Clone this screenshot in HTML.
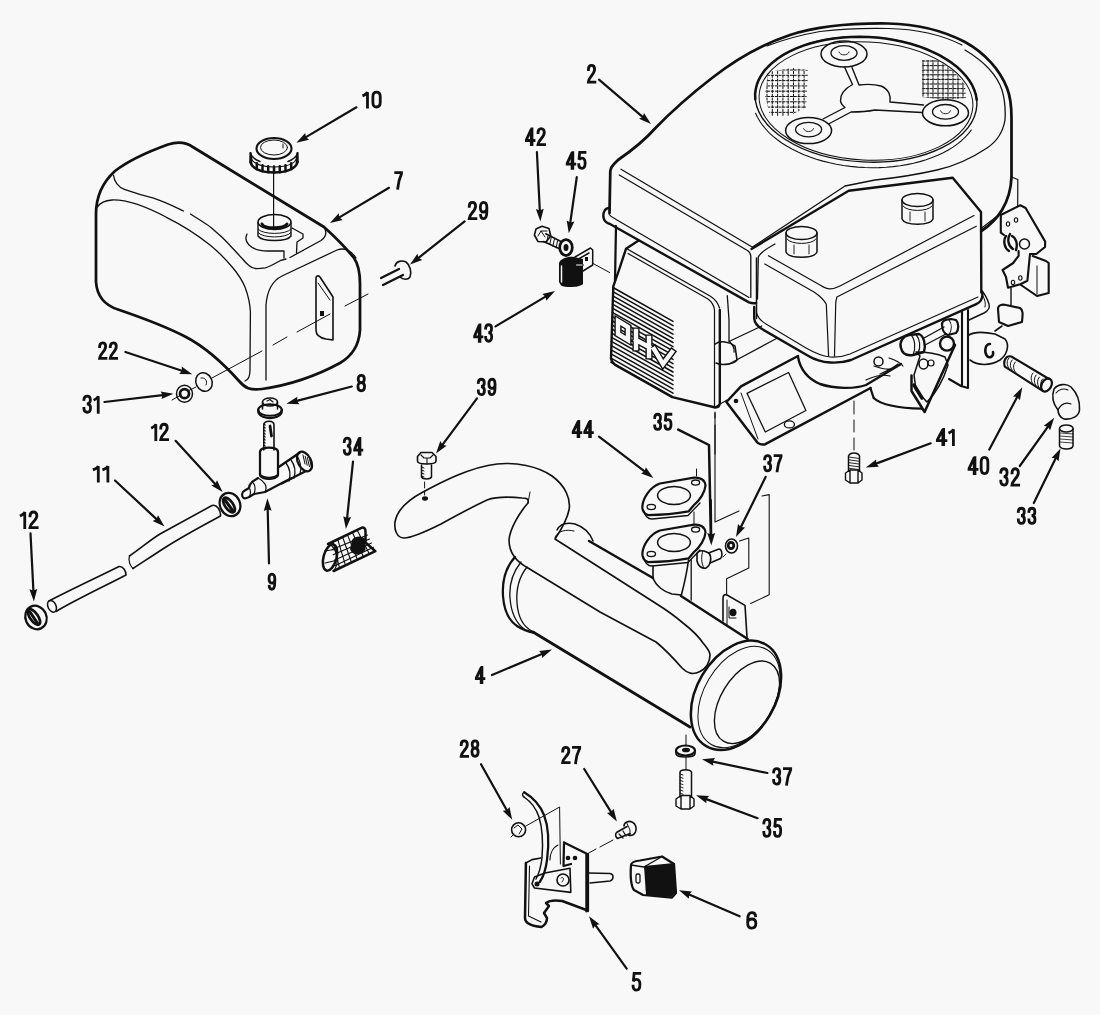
<!DOCTYPE html>
<html><head><meta charset="utf-8"><style>
html,body{margin:0;padding:0;background:#f8f8f8;overflow:hidden;width:1100px;height:1015px;}
svg{display:block;}
svg path,svg line,svg ellipse,svg circle,svg polyline,svg polygon,svg rect{fill:none;stroke:#111;stroke-linecap:round;stroke-linejoin:round;}
svg .f{fill:#111;stroke:none;}
svg .dg path{stroke-width:2.8px;vector-effect:non-scaling-stroke;stroke-linecap:square;stroke-linejoin:miter;stroke-miterlimit:3}
svg .lb{font-family:"Liberation Sans",sans-serif;font-weight:bold;fill:#111;}
</style></head><body>
<svg width="1100" height="1015" viewBox="0 0 1100 1015">
<g transform="translate(362.7,90.9) scale(1.165,0.911)" class="dg"><path transform="translate(0.00,0)" d="M0.9,4.9 C2.4,4.1 3.6,2.9 4.1,1.35 L4.1,17.65"/><path transform="translate(7.40,0)" d="M4.5,1.35 C6.9,1.35 7.65,3.5 7.65,6.2 L7.65,12.8 C7.65,15.5 6.9,17.65 4.5,17.65 C2.1,17.65 1.35,15.5 1.35,12.8 L1.35,6.2 C1.35,3.5 2.1,1.35 4.5,1.35 Z"/></g>
<g transform="translate(394.5,171.3) scale(0.911,0.958)" class="dg"><path transform="translate(0.00,0)" d="M1.35,1.35 L7.65,1.35 L7.65,2.6 C5.6,6.8 4.1,11.5 3.6,17.65"/></g>
<g transform="translate(467.8,201.0) scale(1.025,1.000)" class="dg"><path transform="translate(0.00,0)" d="M1.4,5.4 C1.4,2.8 2.6,1.35 4.5,1.35 C6.5,1.35 7.6,2.8 7.6,5.2 C7.6,7.8 6.2,9.6 4.3,11.8 C2.6,13.8 1.5,15.5 1.35,17.65 L7.9,17.65"/><path transform="translate(10.90,0)" d="M1.6,14.4 C1.8,16.5 2.8,17.65 4.4,17.65 C6.6,17.65 7.65,15.2 7.65,10.5 L7.65,6 C7.65,3.1 6.5,1.35 4.5,1.35 C2.5,1.35 1.35,3.1 1.35,6.4 C1.35,9.4 2.5,11 4.4,11 C6.1,11 7.4,9.8 7.65,8"/></g>
<g transform="translate(587.0,64.0) scale(1.000,1.026)" class="dg"><path transform="translate(0.00,0)" d="M1.4,5.4 C1.4,2.8 2.6,1.35 4.5,1.35 C6.5,1.35 7.6,2.8 7.6,5.2 C7.6,7.8 6.2,9.6 4.3,11.8 C2.6,13.8 1.5,15.5 1.35,17.65 L7.9,17.65"/></g>
<g transform="translate(525.0,127.4) scale(1.015,0.979)" class="dg"><path transform="translate(0.00,0)" d="M6.2,17.65 L6.2,1.6 L1.35,12.6 L1.35,13.4 L8.9,13.4 M6.9,17.65 L6.9,1.6"/><path transform="translate(11.40,0)" d="M1.4,5.4 C1.4,2.8 2.6,1.35 4.5,1.35 C6.5,1.35 7.6,2.8 7.6,5.2 C7.6,7.8 6.2,9.6 4.3,11.8 C2.6,13.8 1.5,15.5 1.35,17.65 L7.9,17.65"/></g>
<g transform="translate(565.8,151.0) scale(1.015,0.984)" class="dg"><path transform="translate(0.00,0)" d="M6.2,17.65 L6.2,1.6 L1.35,12.6 L1.35,13.4 L8.9,13.4 M6.9,17.65 L6.9,1.6"/><path transform="translate(11.40,0)" d="M7.5,1.35 L2.3,1.35 L1.6,8.8 C2.4,7.8 3.4,7.2 4.6,7.2 C6.6,7.2 7.65,9.2 7.65,12.2 C7.65,15.6 6.5,17.65 4.5,17.65 C2.5,17.65 1.35,16.3 1.35,13.8"/></g>
<g transform="translate(473.3,323.4) scale(0.966,1.011)" class="dg"><path transform="translate(0.00,0)" d="M6.2,17.65 L6.2,1.6 L1.35,12.6 L1.35,13.4 L8.9,13.4 M6.9,17.65 L6.9,1.6"/><path transform="translate(11.40,0)" d="M1.35,4.8 C1.5,2.6 2.6,1.35 4.5,1.35 C6.4,1.35 7.5,2.6 7.5,5 C7.5,7.6 6.4,9.1 4.1,9.1 C6.5,9.1 7.65,10.8 7.65,13.3 C7.65,16.1 6.4,17.65 4.5,17.65 C2.5,17.65 1.35,16.3 1.35,13.8"/></g>
<g transform="translate(98.2,341.5) scale(0.980,0.958)" class="dg"><path transform="translate(0.00,0)" d="M1.4,5.4 C1.4,2.8 2.6,1.35 4.5,1.35 C6.5,1.35 7.6,2.8 7.6,5.2 C7.6,7.8 6.2,9.6 4.3,11.8 C2.6,13.8 1.5,15.5 1.35,17.65 L7.9,17.65"/><path transform="translate(10.90,0)" d="M1.4,5.4 C1.4,2.8 2.6,1.35 4.5,1.35 C6.5,1.35 7.6,2.8 7.6,5.2 C7.6,7.8 6.2,9.6 4.3,11.8 C2.6,13.8 1.5,15.5 1.35,17.65 L7.9,17.65"/></g>
<g transform="translate(82.5,394.8) scale(1.049,0.989)" class="dg"><path transform="translate(0.00,0)" d="M1.35,4.8 C1.5,2.6 2.6,1.35 4.5,1.35 C6.4,1.35 7.5,2.6 7.5,5 C7.5,7.6 6.4,9.1 4.1,9.1 C6.5,9.1 7.65,10.8 7.65,13.3 C7.65,16.1 6.4,17.65 4.5,17.65 C2.5,17.65 1.35,16.3 1.35,13.8"/><path transform="translate(10.90,0)" d="M0.9,4.9 C2.4,4.1 3.6,2.9 4.1,1.35 L4.1,17.65"/></g>
<g transform="translate(356.5,374.2) scale(1.056,0.937)" class="dg"><path transform="translate(0.00,0)" d="M4.5,8.9 C2.5,8.9 1.6,7.4 1.6,5 C1.6,2.6 2.6,1.35 4.5,1.35 C6.4,1.35 7.4,2.6 7.4,5 C7.4,7.4 6.5,8.9 4.5,8.9 C2.3,8.9 1.35,10.7 1.35,13.2 C1.35,16 2.5,17.65 4.5,17.65 C6.5,17.65 7.65,16 7.65,13.2 C7.65,10.7 6.7,8.9 4.5,8.9 Z"/></g>
<g transform="translate(151.5,423.0) scale(1.049,0.937)" class="dg"><path transform="translate(0.00,0)" d="M0.9,4.9 C2.4,4.1 3.6,2.9 4.1,1.35 L4.1,17.65"/><path transform="translate(7.40,0)" d="M1.4,5.4 C1.4,2.8 2.6,1.35 4.5,1.35 C6.5,1.35 7.6,2.8 7.6,5.2 C7.6,7.8 6.2,9.6 4.3,11.8 C2.6,13.8 1.5,15.5 1.35,17.65 L7.9,17.65"/></g>
<g transform="translate(93.0,464.9) scale(1.295,0.911)" class="dg"><path transform="translate(0.00,0)" d="M0.9,4.9 C2.4,4.1 3.6,2.9 4.1,1.35 L4.1,17.65"/><path transform="translate(7.40,0)" d="M0.9,4.9 C2.4,4.1 3.6,2.9 4.1,1.35 L4.1,17.65"/></g>
<g transform="translate(477.0,378.0) scale(0.970,0.942)" class="dg"><path transform="translate(0.00,0)" d="M1.35,4.8 C1.5,2.6 2.6,1.35 4.5,1.35 C6.4,1.35 7.5,2.6 7.5,5 C7.5,7.6 6.4,9.1 4.1,9.1 C6.5,9.1 7.65,10.8 7.65,13.3 C7.65,16.1 6.4,17.65 4.5,17.65 C2.5,17.65 1.35,16.3 1.35,13.8"/><path transform="translate(10.90,0)" d="M1.6,14.4 C1.8,16.5 2.8,17.65 4.4,17.65 C6.6,17.65 7.65,15.2 7.65,10.5 L7.65,6 C7.65,3.1 6.5,1.35 4.5,1.35 C2.5,1.35 1.35,3.1 1.35,6.4 C1.35,9.4 2.5,11 4.4,11 C6.1,11 7.4,9.8 7.65,8"/></g>
<g transform="translate(343.0,436.8) scale(0.951,1.000)" class="dg"><path transform="translate(0.00,0)" d="M1.35,4.8 C1.5,2.6 2.6,1.35 4.5,1.35 C6.4,1.35 7.5,2.6 7.5,5 C7.5,7.6 6.4,9.1 4.1,9.1 C6.5,9.1 7.65,10.8 7.65,13.3 C7.65,16.1 6.4,17.65 4.5,17.65 C2.5,17.65 1.35,16.3 1.35,13.8"/><path transform="translate(10.90,0)" d="M6.2,17.65 L6.2,1.6 L1.35,12.6 L1.35,13.4 L8.9,13.4 M6.9,17.65 L6.9,1.6"/></g>
<g transform="translate(267.8,572.8) scale(0.911,0.932)" class="dg"><path transform="translate(0.00,0)" d="M1.6,14.4 C1.8,16.5 2.8,17.65 4.4,17.65 C6.6,17.65 7.65,15.2 7.65,10.5 L7.65,6 C7.65,3.1 6.5,1.35 4.5,1.35 C2.5,1.35 1.35,3.1 1.35,6.4 C1.35,9.4 2.5,11 4.4,11 C6.1,11 7.4,9.8 7.65,8"/></g>
<g transform="translate(20.2,510.7) scale(1.110,0.958)" class="dg"><path transform="translate(0.00,0)" d="M0.9,4.9 C2.4,4.1 3.6,2.9 4.1,1.35 L4.1,17.65"/><path transform="translate(7.40,0)" d="M1.4,5.4 C1.4,2.8 2.6,1.35 4.5,1.35 C6.5,1.35 7.6,2.8 7.6,5.2 C7.6,7.8 6.2,9.6 4.3,11.8 C2.6,13.8 1.5,15.5 1.35,17.65 L7.9,17.65"/></g>
<g transform="translate(571.8,420.0) scale(1.014,0.937)" class="dg"><path transform="translate(0.00,0)" d="M6.2,17.65 L6.2,1.6 L1.35,12.6 L1.35,13.4 L8.9,13.4 M6.9,17.65 L6.9,1.6"/><path transform="translate(11.40,0)" d="M6.2,17.65 L6.2,1.6 L1.35,12.6 L1.35,13.4 L8.9,13.4 M6.9,17.65 L6.9,1.6"/></g>
<g transform="translate(653.4,413.0) scale(0.950,0.932)" class="dg"><path transform="translate(0.00,0)" d="M1.35,4.8 C1.5,2.6 2.6,1.35 4.5,1.35 C6.4,1.35 7.5,2.6 7.5,5 C7.5,7.6 6.4,9.1 4.1,9.1 C6.5,9.1 7.65,10.8 7.65,13.3 C7.65,16.1 6.4,17.65 4.5,17.65 C2.5,17.65 1.35,16.3 1.35,13.8"/><path transform="translate(10.90,0)" d="M7.5,1.35 L2.3,1.35 L1.6,8.8 C2.4,7.8 3.4,7.2 4.6,7.2 C6.6,7.2 7.65,9.2 7.65,12.2 C7.65,15.6 6.5,17.65 4.5,17.65 C2.5,17.65 1.35,16.3 1.35,13.8"/></g>
<g transform="translate(763.4,454.4) scale(0.950,0.932)" class="dg"><path transform="translate(0.00,0)" d="M1.35,4.8 C1.5,2.6 2.6,1.35 4.5,1.35 C6.4,1.35 7.5,2.6 7.5,5 C7.5,7.6 6.4,9.1 4.1,9.1 C6.5,9.1 7.65,10.8 7.65,13.3 C7.65,16.1 6.4,17.65 4.5,17.65 C2.5,17.65 1.35,16.3 1.35,13.8"/><path transform="translate(10.90,0)" d="M1.35,1.35 L7.65,1.35 L7.65,2.6 C5.6,6.8 4.1,11.5 3.6,17.65"/></g>
<g transform="translate(935.8,428.0) scale(1.136,0.937)" class="dg"><path transform="translate(0.00,0)" d="M6.2,17.65 L6.2,1.6 L1.35,12.6 L1.35,13.4 L8.9,13.4 M6.9,17.65 L6.9,1.6"/><path transform="translate(11.40,0)" d="M0.9,4.9 C2.4,4.1 3.6,2.9 4.1,1.35 L4.1,17.65"/></g>
<g transform="translate(967.6,456.0) scale(1.064,1.000)" class="dg"><path transform="translate(0.00,0)" d="M6.2,17.65 L6.2,1.6 L1.35,12.6 L1.35,13.4 L8.9,13.4 M6.9,17.65 L6.9,1.6"/><path transform="translate(11.40,0)" d="M4.5,1.35 C6.9,1.35 7.65,3.5 7.65,6.2 L7.65,12.8 C7.65,15.5 6.9,17.65 4.5,17.65 C2.1,17.65 1.35,15.5 1.35,12.8 L1.35,6.2 C1.35,3.5 2.1,1.35 4.5,1.35 Z"/></g>
<g transform="translate(999.4,467.4) scale(1.025,1.005)" class="dg"><path transform="translate(0.00,0)" d="M1.35,4.8 C1.5,2.6 2.6,1.35 4.5,1.35 C6.4,1.35 7.5,2.6 7.5,5 C7.5,7.6 6.4,9.1 4.1,9.1 C6.5,9.1 7.65,10.8 7.65,13.3 C7.65,16.1 6.4,17.65 4.5,17.65 C2.5,17.65 1.35,16.3 1.35,13.8"/><path transform="translate(10.90,0)" d="M1.4,5.4 C1.4,2.8 2.6,1.35 4.5,1.35 C6.5,1.35 7.6,2.8 7.6,5.2 C7.6,7.8 6.2,9.6 4.3,11.8 C2.6,13.8 1.5,15.5 1.35,17.65 L7.9,17.65"/></g>
<g transform="translate(1017.0,507.0) scale(0.970,0.932)" class="dg"><path transform="translate(0.00,0)" d="M1.35,4.8 C1.5,2.6 2.6,1.35 4.5,1.35 C6.4,1.35 7.5,2.6 7.5,5 C7.5,7.6 6.4,9.1 4.1,9.1 C6.5,9.1 7.65,10.8 7.65,13.3 C7.65,16.1 6.4,17.65 4.5,17.65 C2.5,17.65 1.35,16.3 1.35,13.8"/><path transform="translate(10.90,0)" d="M1.35,4.8 C1.5,2.6 2.6,1.35 4.5,1.35 C6.4,1.35 7.5,2.6 7.5,5 C7.5,7.6 6.4,9.1 4.1,9.1 C6.5,9.1 7.65,10.8 7.65,13.3 C7.65,16.1 6.4,17.65 4.5,17.65 C2.5,17.65 1.35,16.3 1.35,13.8"/></g>
<g transform="translate(475.0,666.0) scale(1.000,0.947)" class="dg"><path transform="translate(0.00,0)" d="M6.2,17.65 L6.2,1.6 L1.35,12.6 L1.35,13.4 L8.9,13.4 M6.9,17.65 L6.9,1.6"/></g>
<g transform="translate(459.8,739.6) scale(0.990,0.947)" class="dg"><path transform="translate(0.00,0)" d="M1.4,5.4 C1.4,2.8 2.6,1.35 4.5,1.35 C6.5,1.35 7.6,2.8 7.6,5.2 C7.6,7.8 6.2,9.6 4.3,11.8 C2.6,13.8 1.5,15.5 1.35,17.65 L7.9,17.65"/><path transform="translate(10.90,0)" d="M4.5,8.9 C2.5,8.9 1.6,7.4 1.6,5 C1.6,2.6 2.6,1.35 4.5,1.35 C6.4,1.35 7.4,2.6 7.4,5 C7.4,7.4 6.5,8.9 4.5,8.9 C2.3,8.9 1.35,10.7 1.35,13.2 C1.35,16 2.5,17.65 4.5,17.65 C6.5,17.65 7.65,16 7.65,13.2 C7.65,10.7 6.7,8.9 4.5,8.9 Z"/></g>
<g transform="translate(561.3,746.0) scale(0.990,0.947)" class="dg"><path transform="translate(0.00,0)" d="M1.4,5.4 C1.4,2.8 2.6,1.35 4.5,1.35 C6.5,1.35 7.6,2.8 7.6,5.2 C7.6,7.8 6.2,9.6 4.3,11.8 C2.6,13.8 1.5,15.5 1.35,17.65 L7.9,17.65"/><path transform="translate(10.90,0)" d="M1.35,1.35 L7.65,1.35 L7.65,2.6 C5.6,6.8 4.1,11.5 3.6,17.65"/></g>
<g transform="translate(772.3,767.4) scale(0.990,0.947)" class="dg"><path transform="translate(0.00,0)" d="M1.35,4.8 C1.5,2.6 2.6,1.35 4.5,1.35 C6.4,1.35 7.5,2.6 7.5,5 C7.5,7.6 6.4,9.1 4.1,9.1 C6.5,9.1 7.65,10.8 7.65,13.3 C7.65,16.1 6.4,17.65 4.5,17.65 C2.5,17.65 1.35,16.3 1.35,13.8"/><path transform="translate(10.90,0)" d="M1.35,1.35 L7.65,1.35 L7.65,2.6 C5.6,6.8 4.1,11.5 3.6,17.65"/></g>
<g transform="translate(762.5,818.0) scale(0.980,1.042)" class="dg"><path transform="translate(0.00,0)" d="M1.35,4.8 C1.5,2.6 2.6,1.35 4.5,1.35 C6.4,1.35 7.5,2.6 7.5,5 C7.5,7.6 6.4,9.1 4.1,9.1 C6.5,9.1 7.65,10.8 7.65,13.3 C7.65,16.1 6.4,17.65 4.5,17.65 C2.5,17.65 1.35,16.3 1.35,13.8"/><path transform="translate(10.90,0)" d="M7.5,1.35 L2.3,1.35 L1.6,8.8 C2.4,7.8 3.4,7.2 4.6,7.2 C6.6,7.2 7.65,9.2 7.65,12.2 C7.65,15.6 6.5,17.65 4.5,17.65 C2.5,17.65 1.35,16.3 1.35,13.8"/></g>
<g transform="translate(746.0,911.4) scale(1.289,0.947)" class="dg"><path transform="translate(0.00,0)" d="M7.4,4.6 C7.2,2.5 6.2,1.35 4.6,1.35 C2.4,1.35 1.35,3.8 1.35,8.5 L1.35,13 C1.35,15.9 2.5,17.65 4.5,17.65 C6.5,17.65 7.65,15.9 7.65,12.6 C7.65,9.6 6.5,8 4.6,8 C2.9,8 1.6,9.2 1.35,11"/></g>
<g transform="translate(631.6,972.0) scale(1.089,1.032)" class="dg"><path transform="translate(0.00,0)" d="M7.5,1.35 L2.3,1.35 L1.6,8.8 C2.4,7.8 3.4,7.2 4.6,7.2 C6.6,7.2 7.65,9.2 7.65,12.2 C7.65,15.6 6.5,17.65 4.5,17.65 C2.5,17.65 1.35,16.3 1.35,13.8"/></g>
<line x1="356.4" y1="107.3" x2="305.9" y2="137.1" stroke-width="2.20"/>
<polygon class="f" points="296.4,142.7 305.2,133.0 305.9,137.1 309.1,139.7"/>
<line x1="389.0" y1="187.8" x2="339.4" y2="217.4" stroke-width="2.20"/>
<polygon class="f" points="330.0,223.0 338.7,213.2 339.4,217.4 342.7,219.9"/>
<line x1="464.6" y1="221.4" x2="418.6" y2="257.8" stroke-width="2.20"/>
<polygon class="f" points="410.0,264.6 417.4,253.8 418.6,257.8 422.2,259.9"/>
<line x1="599.0" y1="79.6" x2="642.6" y2="116.9" stroke-width="2.20"/>
<polygon class="f" points="651.0,124.0 639.0,118.8 642.6,116.9 644.0,112.9"/>
<line x1="536.9" y1="152.0" x2="539.8" y2="210.4" stroke-width="2.20"/>
<polygon class="f" points="540.4,221.4 535.9,209.1 539.8,210.4 543.7,208.7"/>
<line x1="576.8" y1="177.0" x2="570.3" y2="222.4" stroke-width="2.20"/>
<polygon class="f" points="568.8,233.3 566.7,220.4 570.3,222.4 574.4,221.5"/>
<line x1="495.5" y1="326.4" x2="545.5" y2="296.6" stroke-width="2.20"/>
<polygon class="f" points="555.0,291.0 546.3,300.7 545.5,296.6 542.3,294.0"/>
<line x1="125.4" y1="352.0" x2="181.9" y2="370.8" stroke-width="2.20"/>
<polygon class="f" points="192.3,374.3 179.2,374.0 181.9,370.8 181.7,366.6"/>
<line x1="104.5" y1="402.0" x2="162.6" y2="395.1" stroke-width="2.20"/>
<polygon class="f" points="173.5,393.8 161.5,399.1 162.6,395.1 160.6,391.4"/>
<line x1="351.8" y1="386.5" x2="296.9" y2="400.9" stroke-width="2.20"/>
<polygon class="f" points="286.3,403.7 297.4,396.8 296.9,400.9 299.4,404.3"/>
<line x1="175.6" y1="440.8" x2="215.2" y2="483.9" stroke-width="2.20"/>
<polygon class="f" points="222.6,492.0 211.3,485.4 215.2,483.9 217.0,480.2"/>
<line x1="115.0" y1="480.5" x2="156.5" y2="519.1" stroke-width="2.20"/>
<polygon class="f" points="164.5,526.6 152.7,520.9 156.5,519.1 158.0,515.2"/>
<line x1="477.0" y1="398.4" x2="442.6" y2="444.7" stroke-width="2.20"/>
<polygon class="f" points="436.0,453.5 440.3,441.1 442.6,444.7 446.6,445.8"/>
<line x1="353.0" y1="461.7" x2="347.1" y2="518.1" stroke-width="2.20"/>
<polygon class="f" points="345.9,529.0 343.3,516.2 347.1,518.1 351.1,517.0"/>
<line x1="269.0" y1="563.4" x2="267.7" y2="509.3" stroke-width="2.20"/>
<polygon class="f" points="267.4,498.3 271.6,510.7 267.7,509.3 263.8,510.9"/>
<line x1="30.5" y1="533.4" x2="33.4" y2="590.6" stroke-width="2.20"/>
<polygon class="f" points="33.9,601.6 29.4,589.3 33.4,590.6 37.2,588.9"/>
<line x1="599.0" y1="436.6" x2="644.6" y2="471.3" stroke-width="2.20"/>
<polygon class="f" points="653.4,478.0 641.1,473.5 644.6,471.3 645.8,467.3"/>
<line x1="765.7" y1="476.8" x2="740.9" y2="527.1" stroke-width="2.20"/>
<polygon class="f" points="736.0,537.0 738.0,524.1 740.9,527.1 745.0,527.5"/>
<line x1="930.7" y1="443.3" x2="876.1" y2="463.6" stroke-width="2.20"/>
<polygon class="f" points="865.8,467.4 876.2,459.4 876.1,463.6 878.9,466.7"/>
<line x1="989.3" y1="449.6" x2="1017.2" y2="397.0" stroke-width="2.20"/>
<polygon class="f" points="1022.3,387.3 1019.9,400.2 1017.2,397.0 1013.0,396.5"/>
<line x1="1019.8" y1="466.0" x2="1047.8" y2="426.8" stroke-width="2.20"/>
<polygon class="f" points="1054.2,417.8 1050.1,430.2 1047.8,426.8 1043.8,425.7"/>
<line x1="1033.8" y1="503.0" x2="1055.7" y2="458.3" stroke-width="2.20"/>
<polygon class="f" points="1060.5,448.4 1058.5,461.3 1055.7,458.3 1051.5,457.9"/>
<line x1="481.0" y1="764.2" x2="506.8" y2="810.2" stroke-width="2.20"/>
<polygon class="f" points="512.2,819.8 502.7,810.8 506.8,810.2 509.5,807.0"/>
<line x1="584.2" y1="769.0" x2="611.1" y2="812.1" stroke-width="2.20"/>
<polygon class="f" points="616.9,821.4 607.0,812.9 611.1,812.1 613.6,808.7"/>
<line x1="767.4" y1="773.0" x2="712.8" y2="761.6" stroke-width="2.20"/>
<polygon class="f" points="702.0,759.3 715.0,758.0 712.8,761.6 713.4,765.7"/>
<line x1="757.6" y1="818.2" x2="706.3" y2="799.1" stroke-width="2.20"/>
<polygon class="f" points="696.0,795.3 709.1,796.0 706.3,799.1 706.4,803.3"/>
<line x1="739.6" y1="916.3" x2="689.1" y2="894.6" stroke-width="2.20"/>
<polygon class="f" points="679.0,890.2 692.0,891.6 689.1,894.6 688.9,898.7"/>
<line x1="626.7" y1="968.7" x2="595.4" y2="925.2" stroke-width="2.20"/>
<polygon class="f" points="589.0,916.3 599.5,924.2 595.4,925.2 593.1,928.7"/>
<polyline points="678.2,429.6 709,445 710.8,534" stroke-width="2.50"/>
<line x1="710.8" y1="500.0" x2="711.2" y2="534.4" stroke-width="2.20"/>
<polygon class="f" points="711.3,545.4 707.3,532.9 711.2,534.4 715.1,532.9"/>
<path d="M96,282 L96,214 C96,196 104,181 115,171 C128,161 150,151 168,144.5 C178,141.5 186,142.5 192,146.5 L324,227 C334,236 346,248 354,258 C359,265 360,273 360,284 L360,330 C359,346 352,356 340,363 C318,375 290,385 262,389 C250,390.5 245,388 239,381 C222,362 205,347 186,337 C165,326 140,317 118,309.5 C104,305 97,296 96,282 Z" stroke-width="2.75" />
<path d="M97.6,207 C100,203 104,200.5 112,200 C125,199.5 145,206 166.4,217.3 C180,224 195,233 210,245 C220,253 228,262 233,268 C238,274 242,280 245,287 C248,295 250,303 250.4,312 L250,370 C250,376 248,380 245,381" stroke-width="1.30" />
<path d="M113.5,175.3 C114,181 118,187 124.4,189.3 C135,193 145,196 153.6,198.2 C165,202 175,207 183.5,211" stroke-width="1.30" />
<path d="M190.5,214 C198,219 205,223 211,227.5 C216,232 220,235 223.6,238.7 C228,243 236,252 242.6,259 C245,262 247,264 249,265.5 C251,267.5 254,268.6 257,268.6 C260,268.6 263,268.2 265.4,267.8 C270,266.5 275,263.5 280,260.7 L286,259" stroke-width="1.30" />
<path d="M266,380 L266,305 C267,292 272,281 282,276 L337,250 C345,247 352,251 356,258" stroke-width="1.30" />
<path d="M290,257.5 L321,240.5 C326,237 327,232 324,227" stroke-width="1.30" />
<path d="M247,234 C245,238 246,242 249,245 C253,249 260,251 268,251 L284,251 L284,258" stroke-width="1.30" />
<path d="M292,228 L303,234 L303,238 L297,242 L296.5,253" stroke-width="1.30" />
<ellipse cx="274.5" cy="222" rx="16.5" ry="7.5" stroke-width="1.60"/>
<path d="M262,224 C264,229 284,229 287,224" stroke-width="3.00"/>
<path d="M258,223 L258,236 C262,242 287,242 291,236 L291,223" stroke-width="1.40" />
<path d="M258,229 C262,235 287,235 291,229 M258,232.5 C262,238.5 287,238.5 291,232.5" stroke-width="1.00" />
<ellipse cx="274" cy="148.5" rx="17.5" ry="10.5" stroke-width="2.12"/>
<ellipse cx="274" cy="147.5" rx="13.5" ry="7.5" stroke-width="1.00"/>
<path d="M283,144 L283,148" stroke-width="1.00" />
<path d="M250.5,153 L250.5,162 M297.5,153 L297.5,162" stroke-width="2.25" />
<path d="M250.5,153 C251,156 255,160 260,161.5" stroke-width="1.50" />
<path d="M297.5,153 C297,156 293,160 288,161.5" stroke-width="1.50" />
<path d="M250.5,156 C252,164 262,167 274,167 C286,167 296,164 297.5,156" stroke-width="1.20" />
<path d="M250.5,162 C252,169 262,172.5 274,172.5 C286,172.5 296,169 297.5,162" stroke-width="2.50" />
<line x1="251.0" y1="157.0" x2="251.0" y2="163.0" stroke-width="2.50"/>
<line x1="256.8" y1="163.3" x2="256.8" y2="169.3" stroke-width="2.50"/>
<line x1="262.5" y1="165.2" x2="262.5" y2="171.2" stroke-width="2.50"/>
<line x1="268.2" y1="166.2" x2="268.2" y2="172.2" stroke-width="2.50"/>
<line x1="274.0" y1="166.5" x2="274.0" y2="172.5" stroke-width="2.50"/>
<line x1="279.8" y1="166.2" x2="279.8" y2="172.2" stroke-width="2.50"/>
<line x1="285.5" y1="165.2" x2="285.5" y2="171.2" stroke-width="2.50"/>
<line x1="291.2" y1="163.3" x2="291.2" y2="169.3" stroke-width="2.50"/>
<line x1="297.0" y1="157.0" x2="297.0" y2="163.0" stroke-width="2.50"/>
<line x1="273.6" y1="172" x2="273.6" y2="228" stroke-width="1.20"/>
<path d="M316,278 L316,330 C316,336 320,338 326,339 L333,340 L333,297 L320,277 C318,275 316,276 316,278 Z" stroke-width="1.60" />
<path d="M318,283 L330,300" stroke-width="1.00" />
<rect x="320" y="311" width="4" height="5" class="f"/>
<path d="M172,400 L181,395 M188,391 L196,387 M212,378 L262,351 M273,345 L287,337 M297,332 L330,314 M345,306 L368,294" stroke-width="1.00" />
<path d="M395,266 C396,261 402,260 406,262 C410,265 412,272 410,277 C408,280 403,280 400,277" stroke-width="1.60" />
<path d="M381,278 L399,269 M383,285 L403,275" stroke-width="2.25" />
<ellipse cx="204" cy="382" rx="8" ry="9.5" transform="rotate(-25 204 382)" stroke-width="1.50"/>
<path d="M201,378 C205,377 208,381 206,385" stroke-width="1.00" />
<ellipse cx="184.5" cy="393.7" rx="8" ry="8.5" stroke-width="1.50"/>
<ellipse cx="184.5" cy="393.7" rx="4.5" ry="4.5" stroke-width="2.75"/>
<path d="M49,601 C70,590 100,576 119,566.5 C123,566 126,571 126,575 C105,586 75,600 56,611.5" stroke-width="1.60" />
<ellipse cx="52" cy="606.3" rx="4" ry="6.2" transform="rotate(-25 52 606.3)" stroke-width="1.50"/>
<path d="M129.5,556 C140,549 150,540 160,534 C180,523 200,512 212,505.5 C217,504 221,511 220.5,516 C200,527 180,538 166,547 C155,554 143,562 133,568.5" stroke-width="1.60" />
<path d="M129.5,556 C128,560 130,566 133,568.5" stroke-width="1.20" />
<ellipse cx="36" cy="617.5" rx="10.5" ry="12" transform="rotate(-25 36 617.5)" stroke-width="2.25"/>
<ellipse cx="34" cy="617" rx="4" ry="9" transform="rotate(-35 34 617)" stroke-width="2.75"/>
<path d="M30,612 L38,624" stroke-width="3.00" />
<ellipse cx="230" cy="504.5" rx="10" ry="12" transform="rotate(-25 230 504.5)" stroke-width="2.25"/>
<ellipse cx="229" cy="505" rx="4" ry="8.5" transform="rotate(-35 229 505)" stroke-width="2.75"/>
<path d="M225,500 L233,511" stroke-width="3.00" />
<ellipse cx="270" cy="410" rx="11.8" ry="5.8" stroke-width="2.12"/>
<path d="M258.2,410 L258.5,413 C260,416 265,418 270,418 C275,418 280,416 281.5,413 L281.8,410" stroke-width="2.25" />
<path d="M262.5,409 L262.5,402 M277.5,409 L277.5,402" stroke-width="1.50" />
<ellipse cx="270" cy="402" rx="7.5" ry="4" stroke-width="1.50"/>
<path d="M267,401 L270,399.5 L273,402" stroke-width="1.10" />
<path d="M263.8,450 L263.8,425 C264,420 274,420 274,425 L274,450" stroke-width="1.60" />
<line x1="263.5" y1="424" x2="265.5" y2="425" stroke-width="1.00"/>
<line x1="263.5" y1="427" x2="265.5" y2="428" stroke-width="1.00"/>
<line x1="263.5" y1="430" x2="265.5" y2="431" stroke-width="1.00"/>
<line x1="263.5" y1="433" x2="265.5" y2="434" stroke-width="1.00"/>
<line x1="263.5" y1="436" x2="265.5" y2="437" stroke-width="1.00"/>
<line x1="263.5" y1="439" x2="265.5" y2="440" stroke-width="1.00"/>
<line x1="263.5" y1="442" x2="265.5" y2="443" stroke-width="1.00"/>
<line x1="263.5" y1="445" x2="265.5" y2="446" stroke-width="1.00"/>
<line x1="263.5" y1="448" x2="265.5" y2="449" stroke-width="1.00"/>
<path d="M270,426 L271.5,436" stroke-width="2.75" />
<path d="M260,452 C260,446 278,446 278,452 L278,475 C278,479 260,479 260,475 Z" stroke-width="2.25" />
<path d="M260.5,473 C262,478 276,478 277.5,473 L277.5,477 C276,481 262,481 260.5,477 Z" stroke-width="3.00" class="f"/>
<path d="M258,478 L252,482 C250,484 249,486 249,488 L244,491 C242,492 241.5,496 243,497.5 C245,499.5 247,498 249,497 L254,494 L265,492 L282,483 L292,478" stroke-width="2.12" />
<path d="M252,482 C255,484 256,488 254,494 M249,488 C251,490 251,494 249,497" stroke-width="1.20" />
<path d="M258,478 C264,481 268,486 265,492" stroke-width="1.20" />
<path d="M279.1,466.8 L299.6,452.7 M281.7,483.5 L306,471" stroke-width="2.25" />
<ellipse cx="304.5" cy="461.5" rx="6.5" ry="10.5" transform="rotate(-28 304.5 461.5)" stroke-width="2.25"/>
<path d="M286,463 C289,467 291,474 289,481 M291,460 C294,464 296,471 294,478" stroke-width="1.30" />
<path d="M296,455 C300,459 302,467 300,474" stroke-width="1.20" />
<line x1="303.0" y1="455.0" x2="305.0" y2="464.0" stroke-width="1.00"/>
<line x1="305.2" y1="456.3" x2="307.2" y2="465.3" stroke-width="1.00"/>
<line x1="307.4" y1="457.6" x2="309.4" y2="466.6" stroke-width="1.00"/>
<line x1="309.6" y1="458.9" x2="311.6" y2="467.9" stroke-width="1.00"/>
<path d="M328,544 L362,527.6 C364,527 365.5,529 365.5,531 L365.5,542.5 L375.4,551.2 L333.6,571" stroke-width="2.50" />
<ellipse cx="330" cy="557.5" rx="6.5" ry="13.5" transform="rotate(15 330 557.5)" stroke-width="2.50"/>
<path d="M325,551 L337,549 M325,563 L338,560 M331,545 C338,552 340,560 334,571" stroke-width="1.20" />
<line x1="332.9" y1="541.7" x2="339.6" y2="568.2" stroke-width="1.10"/>
<line x1="337.7" y1="539.3" x2="345.5" y2="565.3" stroke-width="1.10"/>
<line x1="342.6" y1="537.0" x2="351.5" y2="562.5" stroke-width="1.10"/>
<line x1="347.4" y1="534.6" x2="357.5" y2="559.7" stroke-width="1.10"/>
<line x1="352.3" y1="532.3" x2="363.5" y2="556.9" stroke-width="1.10"/>
<line x1="357.1" y1="529.9" x2="369.4" y2="554.0" stroke-width="1.10"/>
<line x1="332.1" y1="549.4" x2="367.5" y2="535.0" stroke-width="1.10"/>
<line x1="333.2" y1="554.8" x2="369.5" y2="539.1" stroke-width="1.10"/>
<line x1="334.4" y1="560.2" x2="371.4" y2="543.1" stroke-width="1.10"/>
<line x1="335.5" y1="565.6" x2="373.4" y2="547.2" stroke-width="1.10"/>
<path class="f" d="M352,540 C356,535 364,536 365.5,540 L365.5,550 C360,556 352,556 350,549 Z"/>
<path d="M417.5,456.5 L421,452.5 L432,452.5 L436,456.5 L436,461 C436,465 417.5,465 417.5,461 Z" stroke-width="1.60" />
<path d="M421,455 L424,458 L430,458 L433,455 M427,458 L427,464" stroke-width="1.10" />
<path d="M421.5,465 L421.5,477 C423,479.5 430,479.5 431.5,477 L431.5,465" stroke-width="1.50" />
<line x1="421.5" y1="467" x2="424" y2="468" stroke-width="1.00"/>
<line x1="421.5" y1="470" x2="424" y2="471" stroke-width="1.00"/>
<line x1="421.5" y1="473" x2="424" y2="474" stroke-width="1.00"/>
<line x1="421.5" y1="476" x2="424" y2="477" stroke-width="1.00"/>
<path d="M424.6,482 L424.6,488 M424.6,491 L424.6,495" stroke-width="1.00" />
<ellipse cx="425" cy="498.5" rx="3" ry="2.2" class="f"/>
<path d="M423,492 C440,483 470,467 497,464 C515,462 538,466 552,476 C566,486 571,500 569,510 C567,520 561,530 555,539 L656,603.5 C668,611 676,617 683,623 C692,630 699,637 703,643 C707,648 710,651 710,655 C710,662 706,669 700,671.5 C696,673.5 693,674 690,673 C686,672 684,670 682,668 C675,660 666,650 656,642 L600,612 L528,568 C515,561 509,552 509,540 C510,528 520,512 528,503 C529,499 527,498 522,498 C512,497 498,496 487,500 C470,508 450,519 441,524 C425,532 412,538 404,538 C397,538 394,530 395,522 C397,510 408,500 423,492 Z" stroke-width="1.65" />
<path d="M528,503 L530,492" stroke-width="1.00" />
<path d="M557,530 C560,524 566,522 575,524 C584,527 590,533 593,541" stroke-width="1.50" />
<path d="M555,537 C558,531 566,529 574,531" stroke-width="1.00" />
<path d="M589,541 L653,578 M681,596 L747.7,639" stroke-width="2.50" />
<path d="M533,632 L690,727" stroke-width="2.75" />
<path d="M515,557 C506,567 502,581 503,596 C504,610 508,620 517,626 C523,630 530,632 535,633" stroke-width="2.25" />
<path d="M521,562 C513,572 509,585 510,598 C511,612 515,622 524,629" stroke-width="1.30" />
<path d="M527,567 C519,577 516,590 517,603 C518,616 522,626 532,631" stroke-width="1.30" />
<ellipse cx="736" cy="695.3" rx="39.3" ry="58.9" transform="rotate(30.35 736 695.3)" stroke-width="2.50"/>
<ellipse cx="739" cy="697" rx="35" ry="55" transform="rotate(30.35 739 697)" stroke-width="1.00"/>
<ellipse cx="747" cy="702.3" rx="26.3" ry="45.5" transform="rotate(31.2 747 702.3)" stroke-width="1.40"/>
<line x1="492.0" y1="675.0" x2="541.9" y2="653.9" stroke-width="2.20"/>
<polygon class="f" points="552.0,649.6 542.0,658.1 541.9,653.9 539.0,650.9"/>
<path d="M642.4,506.0 C643.0,498.0 650.0,487.0 660.0,483.5 L694.0,477.7 C700.0,477.0 705.0,480.0 705.5,485.5 C705.0,492.0 700.0,500.0 694.0,505.0 L688.5,511.4 C680.0,513.0 660.0,515.0 648.0,515.0 C644.0,514.0 642.0,510.0 642.4,506.0 Z" stroke-width="2.25" />
<path d="M643.5,510.0 C645.0,517.0 648.0,519.0 652.0,519.0 L688.0,515.5 L700.0,503.0" stroke-width="1.30" />
<ellipse cx="674" cy="495.5" rx="16.4" ry="8.9" stroke-width="1.50"/>
<ellipse cx="651.3" cy="507.0" rx="4.2" ry="2.6" stroke-width="1.30"/>
<ellipse cx="695.6" cy="482.6" rx="4" ry="2.6" stroke-width="1.30"/>
<path d="M642.4,553.0 C643.0,545.0 650.0,534.0 660.0,530.5 L694.0,524.7 C700.0,524.0 705.0,527.0 705.5,532.5 C705.0,539.0 700.0,547.0 694.0,552.0 L688.5,558.4 C680.0,560.0 660.0,562.0 648.0,562.0 C644.0,561.0 642.0,557.0 642.4,553.0 Z" stroke-width="2.25" />
<path d="M643.5,557.0 C645.0,564.0 648.0,566.0 652.0,566.0 L688.0,562.5 L700.0,550.0" stroke-width="1.30" />
<ellipse cx="674" cy="542.5" rx="16.4" ry="8.9" stroke-width="1.50"/>
<ellipse cx="651.3" cy="554.0" rx="4.2" ry="2.6" stroke-width="1.30"/>
<ellipse cx="695.6" cy="529.6" rx="4" ry="2.6" stroke-width="1.30"/>
<path d="M696.5,469 L696.5,476" stroke-width="1.00" />
<path d="M694,512 L694,525" stroke-width="1.00" />
<path d="M653,566 L653,578 C656,586 664,592 672,594 L681.4,595 C684,585 687,572 688.5,560" stroke-width="1.60" />
<path d="M691.2,560 L691.2,600" stroke-width="1.30" />
<path d="M697,556 C696,552 700,550 704,551 L709,553 C712,557 711,565 706,568 C702,569 698,566 697,561 Z" stroke-width="1.60" />
<path d="M703,551 C701,556 701,563 704,568" stroke-width="1.00" />
<path d="M708.5,553 L719,549 C722,549 723,556 720.5,558.5 L710,563" stroke-width="1.50" />
<path d="M723,557 L726,554" stroke-width="0.90" />
<ellipse cx="731.5" cy="546" rx="6" ry="7" stroke-width="1.60"/>
<ellipse cx="731" cy="545.5" rx="2.8" ry="3.2" stroke-width="2.75"/>
<path d="M715,413 L715,522 L739,511" stroke-width="1.10" />
<path d="M762,496 L769.2,494.6 L769.2,594.8 L750.6,603.6" stroke-width="1.10" />
<path d="M739.5,541 L748.8,538 L748.8,568 L726.6,578.8 L726.6,594" stroke-width="1.10" />
<path d="M723,621 L723,598 C723,595 725,594 727,595 L745,605.4 L747,637.3" stroke-width="1.60" />
<path d="M727,600 L727,625" stroke-width="1.00" />
<ellipse cx="733" cy="612.5" rx="3.5" ry="3.8" class="f"/>
<path d="M729,607 L729,618 L736,618" stroke-width="1.00" />
<path d="M609.5,213 L610.3,171 C610.5,168 612,166 614,164 L618,160 C631,151 644,141 655,128.5 C670,113 690,95 712,78 C735,60 760,45 790,35 C815,27 850,23 888,23.5 C915,24 942,30 965,42 C985,53 1000,70 1007,88 C1011,98 1011.5,108 1011.5,118 L1011.5,177 C1011,190 1008,200 1002,210 C996,220 989,226 981.3,231" stroke-width="2.75" />
<path d="M767,46 C785,39 800,35 820,31.5 C845,28.5 865,28 888,28.5 C915,29 942,35 962,45" stroke-width="1.10" />
<path d="M965,50 C985,62 997,75 1002,90 C1005,100 1005.5,112 1005,120 C1003,132 996,142 987,148 C972,158 955,166 937,170 C915,175 895,178 875,180 L845,186 L752.5,247" stroke-width="1.30" />
<path d="M621,169.3 L752.5,247.2" stroke-width="1.30" />
<path d="M619.3,175 L747.4,250.5 C750,252 751,255 750.8,258 L750.8,297.4" stroke-width="1.30" />
<path d="M758.3,257.2 L757.5,299 M758.3,257.2 C760,252 768,248 775,244" stroke-width="1.30" />
<path d="M609.5,208 C605,208 603,212 603.4,217 C604,221 606,223 610,224 L749,302.4 C752,303.5 754,303.5 756,303" stroke-width="2.38" />
<path d="M609.2,214.5 C611,217 614,218 617,220 L749,297.4" stroke-width="1.20" />
<ellipse cx="866" cy="99.5" rx="111" ry="62.5" transform="rotate(3 866 99.5)" stroke-width="1.40"/>
<path d="M755.3,99.2 L755.1,94.2 L755.7,89.4 L756.9,84.5 L758.7,79.8 L761.3,75.2 L764.4,70.7 L768.3,66.5 L772.7,62.4 L777.7,58.5 L783.2,54.9 L789.2,51.6 L795.7,48.6 L802.7,45.9 L810.0,43.5 L817.7,41.5 L825.7,39.8 L833.9,38.5 L842.4,37.5 L850.9,37.0 L859.6,36.8 L868.3,37.0 L877.0,37.6 L885.6,38.6 L894.1,40.0 L902.5,41.7 L910.6,43.8 L918.4,46.2 L925.9,49.0 L933.0,52.1 L939.8,55.4 L946.0,59.1 L951.8,62.9 L957.1,67.0 L961.7,71.4 L965.8,75.8 L969.3,80.5 L972.2,85.2 L974.3,90.0 L975.9,94.9 L976.7,99.8" stroke-width="2.50" />
<ellipse cx="866" cy="101" rx="107" ry="59" transform="rotate(3 866 101)" stroke-width="1.00"/>
<path d="M971.3,130.0 L968.5,133.7 L965.2,137.2 L961.5,140.7 L957.5,143.9 L953.0,147.1 L948.3,150.0 L943.2,152.7 L937.8,155.3 L932.1,157.6 L926.1,159.7 L919.9,161.6 L913.5,163.2 L906.9,164.6 L900.1,165.7 L893.2,166.6 L886.2,167.2 L879.1,167.6 L872.0,167.7 L864.8,167.5 L857.6,167.1 L850.5,166.4 L843.4,165.5 L836.4,164.3 L829.6,162.8 L822.9,161.1 L816.3,159.2 L810.0,157.0 L803.9,154.7 L798.0,152.1 L792.4,149.3 L787.1,146.3 L782.1,143.2 L777.4,139.8 L773.1,136.4 L769.2,132.8 L765.7,129.0 L762.5,125.2 L759.8,121.3 L757.5,117.3 L755.6,113.2" stroke-width="1.10" />
<ellipse cx="844" cy="54" rx="23" ry="13" stroke-width="1.50"/>
<ellipse cx="844" cy="53" rx="13" ry="7.3" stroke-width="1.30"/>
<path d="M839,52 C840,56 848,56 849,52" stroke-width="0.90"/>
<ellipse cx="808.6" cy="130.6" rx="23" ry="13" stroke-width="1.50"/>
<ellipse cx="808.6" cy="129.6" rx="13" ry="7.3" stroke-width="1.30"/>
<path d="M803.6,128.6 C804.6,132.6 812.6,132.6 813.6,128.6" stroke-width="0.90"/>
<ellipse cx="945.5" cy="112.8" rx="23" ry="13" stroke-width="1.50"/>
<ellipse cx="945.5" cy="111.8" rx="13" ry="7.3" stroke-width="1.30"/>
<path d="M940.5,110.8 C941.5,114.8 949.5,114.8 950.5,110.8" stroke-width="0.90"/>
<path d="M844.5,67 L852.5,84.5 C846,88 840,94 840.5,101 C841,104 843,106 845,107.5 L823,119 M829.5,123.5 L851,112 C858,112 865,112 875,110 L922,112.5 M923.5,105 L890,102 C891,96 889,89 881,86 C874,84 867,84 859,85 L852,67.5" stroke-width="1.40" />
<clipPath id="h1"><path d="M768,72 L792,68 L808,70 L806,108 L788,116 L770,116 L765,95 Z"/></clipPath>
<clipPath id="h2"><path d="M922,60 L937,60 L955,72 L965,85 L966,98 L945,100 L922,97 Z"/></clipPath>
<path d="M767.0,60 L767.0,120 M772.3,60 L772.3,120 M777.6,60 L777.6,120 M782.9,60 L782.9,120 M788.2,60 L788.2,120 M793.5,60 L793.5,120 M798.8,60 L798.8,120 M804.1,60 L804.1,120 M809.4,60 L809.4,120 M814.7,60 L814.7,120 M820.0,60 L820.0,120 M760,70.0 L810,70.0 M760,75.3 L810,75.3 M760,80.6 L810,80.6 M760,85.9 L810,85.9 M760,91.2 L810,91.2 M760,96.5 L810,96.5 M760,101.8 L810,101.8 M760,107.1 L810,107.1 M760,112.4 L810,112.4 M760,117.7 L810,117.7 M760,123.0 L810,123.0 M760,128.3 L810,128.3" clip-path="url(#h1)" stroke-width="1.00" stroke-dasharray="2.2,1.6"/>
<path d="M923.0,55 L923.0,102 M928.0,55 L928.0,102 M933.0,55 L933.0,102 M938.0,55 L938.0,102 M943.0,55 L943.0,102 M948.0,55 L948.0,102 M953.0,55 L953.0,102 M958.0,55 L958.0,102 M963.0,55 L963.0,102 M968.0,55 L968.0,102 M973.0,55 L973.0,102 M915,61.0 L970,61.0 M915,65.6 L970,65.6 M915,70.2 L970,70.2 M915,74.8 L970,74.8 M915,79.4 L970,79.4 M915,84.0 L970,84.0 M915,88.6 L970,88.6 M915,93.2 L970,93.2 M915,97.8 L970,97.8 M915,102.4 L970,102.4" clip-path="url(#h2)" stroke-width="1.00" stroke-dasharray="2.6,1.2"/>
<path d="M751.5,249 L848.7,190.7 L952.7,177.7 L981,212 L981.3,292.4" stroke-width="2.38" />
<path d="M756.5,258 L756.5,318.4" stroke-width="1.50" />
<path d="M754.2,307 L754.2,318.4 C754.5,323 757,326 762,329 L808.5,356 C815,360 822,362 830,362.5 C838,363 845,362 851,360 L976.3,304.2 C981,302 983,298 982.3,292.4" stroke-width="2.38" />
<path d="M756.6,313 C758,318 761,321 766,324 L806,348 C813,352 822,356 830,357 C838,357.5 845,356 850,354 L978,297" stroke-width="1.10" />
<path d="M981.3,290 C984,293 987,298 989,304 C990,308 988,311 984,313 L969,320" stroke-width="1.40" />
<path d="M983,296 C985,300 986,304 985,307" stroke-width="1.00" />
<path d="M768.4,255.7 L820,285 C823,287 826,288.8 830,288.8 C833,288.8 836,288 840,286 L974,215.5" stroke-width="1.20" />
<path d="M764.8,264 L814,292 C820,296 824,300 826.3,304.2 L828.6,356" stroke-width="1.20" />
<path d="M836.9,297 L976.3,226.2 M836.9,297 C836,300 835.7,302 835.7,304.2 L834.5,356" stroke-width="1.20" />
<path d="M981,228.5 L1000,214" stroke-width="1.20" />
<path d="M786,233 L786,252 C789,259 814,259 817,252 L817,233" stroke-width="1.50"/>
<ellipse cx="801.5" cy="233" rx="15.5" ry="6.5" stroke-width="1.50"/>
<path d="M787,239 C791,245 812,245 816,239" stroke-width="1.00"/>
<path d="M794,245 L794,254 M809,245 L809,254" stroke-width="0.90"/>
<path d="M902,200 L902,219 C905,226 930,226 933,219 L933,200" stroke-width="1.50"/>
<ellipse cx="917.5" cy="200" rx="15.5" ry="6.5" stroke-width="1.50"/>
<path d="M903,206 C907,212 928,212 932,206" stroke-width="1.00"/>
<path d="M910,212 L910,221 M925,212 L925,221" stroke-width="0.90"/>
<path d="M616,226 L615,281" stroke-width="2.25" />
<path d="M638.6,240.5 L626,248.8 L619,270 L613.3,286.3 L611,358.7 C611.5,361 612.5,363 614.8,364.6 L672.4,397.1 L715.3,407.5 C718,407.5 719.8,406 719.8,403 L719.8,310" stroke-width="2.38" />
<path d="M626.8,248.8 L710,296 C715,299 718,303 719.5,308" stroke-width="1.30" />
<path d="M628,253.5 L708,299 C712,302 714,306 714.5,310 L714.5,407" stroke-width="1.20" />
<path d="M727.3,295.7 L729,320 L729,341 C733,345 735,348 734,352" stroke-width="1.30" />
<path d="M613.0,287.5 L673.0,321.4 M612.9,291.6 L673.0,325.6 M612.8,295.8 L673.0,329.8 M612.6,299.9 L673.0,334.1 M612.5,304.1 L673.0,338.3 M612.4,308.2 L673.0,342.5 M612.3,312.4 L673.0,346.7 M612.2,316.6 L673.0,350.9 M612.0,320.7 L673.0,355.1 M611.9,324.9 L673.0,359.4 M611.8,329.0 L673.0,363.6 M611.7,333.1 L673.0,367.8 M611.6,337.3 L673.0,372.0 M611.4,341.4 L673.0,376.2 M611.3,345.6 L673.0,380.4 M611.2,349.8 L673.0,384.7 M611.1,353.9 L673.0,388.9 M611.0,358.1 L673.0,393.1 M610.8,362.2 L673.0,397.3" stroke-width="1.55"/>
<path d="M618,321 L628,327 L628,340 L618,334 Z M636,331 L636,348 M649,338 L649,356 M636,340 L649,347 M654,349 L663,364 L672,352" style="stroke:#111;stroke-width:7.2px;stroke-linecap:square;stroke-linejoin:miter"/>
<path d="M618,321 L628,327 L628,340 L618,334 Z M636,331 L636,348 M649,338 L649,356 M636,340 L649,347 M654,349 L663,364 L672,352" style="stroke:#f8f8f8;stroke-width:4.4px;stroke-linecap:square;stroke-linejoin:miter"/>
<path d="M715.3,344 C720,340 730,342 735,346 L737,360 C735,364 722,366 716,363" stroke-width="1.60" />
<path d="M729,341.5 L761.8,326 M729,364 L777.4,338" stroke-width="1.30" />
<path d="M715,407 L727,400 M715,412 L715,418 M715,425 L715,454" stroke-width="1.10" />
<path d="M726.4,402 L741,386.4 L798,356 M870.6,388 L765.3,444.2 C762,445 758,444 756.6,441.6 L726.4,402" stroke-width="2.50" />
<path d="M747,393.3 L788.6,372.5 L805.9,410.5 L765.3,432 Z" stroke-width="1.30" />
<path d="M741,393 L758,439" stroke-width="1.00" />
<circle cx="736" cy="401" r="2.3" class="f"/>
<ellipse cx="789.4" cy="424.4" rx="5" ry="3.5" stroke-width="1.30"/>
<path d="M870.4,388 C872,393 873,396 873.7,398" stroke-width="2.25" />
<path d="M798,357 C800,368 806,378 820,384 C835,389 855,389 866,385 L901,364" stroke-width="2.38" />
<circle cx="878.5" cy="361.4" r="4.5" stroke-width="1.50"/>
<path d="M874,366 C880,368 886,370 890,369 M880,374 C887,371 893,368 898,364" stroke-width="1.30" />
<path d="M901,348 C899,342 903,336 909,335 L919,334 C924,336 926,345 924,352 L913,355 C906,356 902,353 901,348 Z" stroke-width="2.38" />
<path d="M911,335 C915,339 916,348 913,355 M916,334.5 C920,339 921,347 918,353.5" stroke-width="1.20" />
<path d="M924,338 L944,327 M925,345 L946,334" stroke-width="1.40" />
<path d="M942,324 C942,321 946,319 951,319 L956,320 C959,323 959,330 956,333 L948,335 C944,334 942,329 942,324 Z" stroke-width="2.25" />
<path d="M949,320 C952,324 952,330 949,335" stroke-width="1.10" />
<circle cx="947" cy="343.6" r="7" stroke-width="2.38"/>
<path d="M911.5,375.5 L911.5,391 L924.6,412 L955,345" stroke-width="2.50" />
<path d="M914,385 L922,398" stroke-width="3.50" />
<path d="M916,352 C925,352 938,354 945,357 L948,365 C944,378 937,392 927,402 L916,390 L914,375 L920,356 Z" stroke-width="1.50" />
<ellipse cx="923.5" cy="364" rx="4.5" ry="5" stroke-width="1.60"/>
<circle cx="931" cy="363" r="3" stroke-width="1.20"/>
<path d="M866,380 C874,376 882,374 890,376 M889,358 C895,360 900,362 903,366" stroke-width="1.20" />
<path d="M873.7,398 C880,404 892,408 922,408.7" stroke-width="2.25" />
<path d="M962,312 L962,386 M968,310 L968,388 L961,386 L949,379" stroke-width="2.12" />
<path d="M969,335 C975,331 985,332 995,334 L1005,339 C1010,345 1007,355 1000,360 C990,366 978,366 970,360" stroke-width="1.60" />
<path d="M990,344 C985,344 984,352 987,356 C990,359 994,356 993,352" stroke-width="2.50" />
<path d="M1011.5,177 L1017.8,179.5 L1017.7,206" stroke-width="1.20" />
<path d="M1000.8,215 L1020.3,205.2 L1025.6,208 L1045.2,241.6 L1045,247 L1036.3,254 L1030,254 L1027.4,280.7 L1020.3,284.2 L1008,287.7 L1006,277 L1002.6,270 L1013.2,263 L1018.6,255.8 L1018.6,251 M1000.8,215 L1000.8,232.7 L1004,235" stroke-width="2.12" />
<ellipse cx="1008" cy="224" rx="1.7" ry="2.2" stroke-width="1.10"/>
<ellipse cx="1016" cy="220" rx="1.7" ry="2.2" stroke-width="1.10"/>
<ellipse cx="1013" cy="282.4" rx="1.7" ry="2.2" stroke-width="1.10"/>
<ellipse cx="1020.3" cy="278" rx="1.7" ry="2.2" stroke-width="1.10"/>
<path d="M1006,236 C1003,240 1004,248 1009,251 M1010,234 C1007,239 1008,246 1013,249 M1012,236 C1016,238 1018,244 1016,250" stroke-width="2.38" />
<circle cx="1024.5" cy="244" r="5" stroke-width="1.50"/>
<path d="M1032.7,256 L1046,261 L1048.7,263 L1048.7,293 L1037,296 L1021,285" stroke-width="2.12" />
<path d="M1037,266 L1037,294" stroke-width="1.00" />
<path d="M1011,288 L1011,305" stroke-width="1.40" />
<path d="M998,309 C998,305 1002,304 1006,305 L1020,308 C1023,310 1023,313 1022,322 L1008,326 L999,322 Z" stroke-width="2.12" />
<path d="M1002,326 L995,331" stroke-width="1.60" />
<path d="M536,229 L542,226.2 L549,228.5 L550.7,236 L546,242 L538,241.5 L534.4,235 Z" stroke-width="1.60" />
<path d="M541,231 L545,237 M538,236 L541,231 L547,231" stroke-width="1.00" />
<path d="M545.8,233.8 L561,241.5 M543.6,241.5 L560,249" stroke-width="1.60" />
<line x1="548.0" y1="236.0" x2="546.5" y2="243.0" stroke-width="1.00"/>
<line x1="551.2" y1="237.6" x2="549.7" y2="244.6" stroke-width="1.00"/>
<line x1="554.4" y1="239.2" x2="552.9" y2="246.2" stroke-width="1.00"/>
<line x1="557.6" y1="240.8" x2="556.1" y2="247.8" stroke-width="1.00"/>
<ellipse cx="566" cy="247.5" rx="6.3" ry="8" stroke-width="2.75"/>
<ellipse cx="566" cy="247.5" rx="2.5" ry="3.6" class="f"/>
<path class="f" d="M559,263 C560,259 568,256 574,257 L583,259 L583,284 C580,287.5 566,288 561,285.5 L559,282 Z"/>
<line x1="561.5" y1="266" x2="561.5" y2="282" style="stroke:#f8f8f8" stroke-width="1.50"/>
<path d="M575,257 L590.5,248 L592.7,250 L592.7,265 L583,271 M575,261 L589,253" stroke-width="1.50" />
<rect x="585" y="257" width="3" height="4" class="f"/>
<rect x="576" y="264" width="7" height="2" style="fill:#f8f8f8"/>
<path d="M592.7,263.3 L609.6,272.5" stroke-width="1.00" />
<path d="M1011.3,356.5 L1049,379 M1004.8,366.6 L1042.6,390.8 M1011.3,356.5 C1006,355 1003,361 1004.8,366.6" stroke-width="2.12" />
<ellipse cx="1046.5" cy="385" rx="4.8" ry="7" transform="rotate(30 1046.5 385)" stroke-width="2.25"/>
<path d="M1009.0,358.0 C1006.0,361.0 1007.0,366.0 1009.0,368.0" stroke-width="1.00" />
<path d="M1012.2,360.0 C1009.2,363.0 1010.2,368.0 1012.2,370.0" stroke-width="1.00" />
<path d="M1015.4,362.0 C1012.4,365.0 1013.4,370.0 1015.4,372.0" stroke-width="1.00" />
<path d="M1033.0,373.0 C1030.0,376.0 1031.0,382.0 1033.0,384.0" stroke-width="1.00" />
<path d="M1036.2,375.0 C1033.2,378.0 1034.2,384.0 1036.2,386.0" stroke-width="1.00" />
<path d="M1039.4,377.0 C1036.4,380.0 1037.4,386.0 1039.4,388.0" stroke-width="1.00" />
<path d="M1042.6,379.0 C1039.6,382.0 1040.6,388.0 1042.6,390.0" stroke-width="1.00" />
<path d="M1054,389 C1058,384 1066,383 1071,387 C1077,393 1080,402 1079.5,410 C1079,416 1072,420 1064,419 C1060,418 1058,413 1058,410 C1054,405 1051,398 1054,389 Z" stroke-width="1.60" />
<path d="M1058,410 C1061,404 1066,402 1071,404 M1056,393 C1059,389 1064,388 1068,390" stroke-width="1.10" />
<path d="M1059.5,429 L1059.5,446 C1061,450 1072,450 1073,446 L1073,429" stroke-width="1.50" />
<ellipse cx="1066.3" cy="428.5" rx="6.8" ry="3.5" stroke-width="1.50"/>
<line x1="1060" y1="433" x2="1073" y2="434" stroke-width="0.80"/>
<line x1="1060" y1="436" x2="1073" y2="437" stroke-width="0.80"/>
<line x1="1060" y1="439" x2="1073" y2="440" stroke-width="0.80"/>
<line x1="1060" y1="442" x2="1073" y2="443" stroke-width="0.80"/>
<path d="M854,401 L854,414 M854,420 L854,432 M854,438 L854,450" stroke-width="1.00" />
<path d="M848.5,456 L848.5,471 M859.5,456 L859.5,471 M848.5,456 C850,452 858,452 859.5,456" stroke-width="1.50" />
<line x1="848.5" y1="457.0" x2="859.5" y2="458.5" stroke-width="0.90"/>
<line x1="848.5" y1="459.8" x2="859.5" y2="461.3" stroke-width="0.90"/>
<line x1="848.5" y1="462.6" x2="859.5" y2="464.1" stroke-width="0.90"/>
<line x1="848.5" y1="465.4" x2="859.5" y2="466.9" stroke-width="0.90"/>
<line x1="848.5" y1="468.2" x2="859.5" y2="469.7" stroke-width="0.90"/>
<path d="M845.5,473 L850,470 L858,470 L862,473 L862,480 L858,483 L850,483 L845.5,480 Z M850,470 L850,483 M858,470 L858,483" stroke-width="1.40" />
<path d="M686,735 L686,745 M686,757 L686,770" stroke-width="1.00" />
<ellipse cx="685.5" cy="750.5" rx="9.5" ry="5" stroke-width="2.12"/>
<path d="M676,751 L676,754 C677,758 694,758 695,754 L695,751" stroke-width="1.50" />
<ellipse cx="686" cy="750" rx="4" ry="2.3" class="f"/>
<path d="M680,772 L680,797 M691.5,772 L691.5,797 M680,772 C681,769 690,769 691.5,772" stroke-width="1.50" />
<line x1="680" y1="774.0" x2="683" y2="775.0" stroke-width="0.90"/>
<line x1="680" y1="777.2" x2="683" y2="778.2" stroke-width="0.90"/>
<line x1="680" y1="780.4" x2="683" y2="781.4" stroke-width="0.90"/>
<line x1="680" y1="783.6" x2="683" y2="784.6" stroke-width="0.90"/>
<line x1="680" y1="786.8" x2="683" y2="787.8" stroke-width="0.90"/>
<line x1="680" y1="790.0" x2="683" y2="791.0" stroke-width="0.90"/>
<line x1="680" y1="793.2" x2="683" y2="794.2" stroke-width="0.90"/>
<path d="M676,799 L681,795.5 L690,795.5 L694,799 L694,806 L690,809 L681,809 L676,806 Z M681,795.5 L681,809 M690,795.5 L690,809" stroke-width="1.40" />
<circle cx="518.6" cy="829.8" r="7" stroke-width="1.60"/>
<path d="M514,828 L518,825 L522,829 L519,834" stroke-width="1.00" />
<path d="M511,837 L514,834 M525.9,826 L559.6,807 L560.4,864" stroke-width="1.00" />
<path d="M624,826 C624,822 629,820.5 632,822 C636,823.5 637,829 635.5,832 C634,835 631,836 628,835" stroke-width="1.60" />
<path d="M627,823.5 L630,830 L630,835" stroke-width="1.00" />
<path d="M627,826.5 L616.5,832.5 C615,834 615.5,837 617.5,838.5 L630,833.5" stroke-width="1.60" />
<path d="M619,834 L623,838 M623,831 L626,836" stroke-width="1.20" />
<path d="M613,840 L600,847 M596,849 L587,854" stroke-width="1.00" />
<path d="M524.2,792.3 C532,797 540,805 544,815 C549,828 549,845 547,860 C546,868 544,876 539.7,882" stroke-width="2.25" />
<path d="M524,797 C530,801 536,808 539,817 C543,830 543,845 542,858 C541,866 540,872 536,879" stroke-width="1.50" />
<path d="M524.2,792.3 C522,793 522,796 524,797" stroke-width="1.40"/>
<path d="M525.9,863 L525,918 C525,923 532,926 541.5,927 C545,925 547,921 547,918 L544,913 L549,906 L546,903 C550,900 556,900 562.2,901 L586.4,910" stroke-width="2.50" />
<path d="M525.9,863 L532,859.6 L541,858" stroke-width="1.60" />
<path d="M529.5,866 L528.5,916 L541,922" stroke-width="1.10" />
<path d="M564,842.4 L586.4,853.6 L586.4,911.4 M588,854 L588,911 M564,842.4 L563.5,866 L571,864" stroke-width="2.25" />
<path d="M532,883.8 L534.5,877 L545,873 L570,868.3 L570.8,892.4 L534.5,888 Z" stroke-width="1.60" />
<circle cx="563" cy="880" r="6" stroke-width="1.60"/>
<path d="M561,878 C563,876 565,879 562,882" stroke-width="0.90" />
<circle cx="537" cy="884" r="2.5" class="f"/>
<circle cx="568" cy="858" r="2.3" class="f"/>
<circle cx="575" cy="858" r="2.3" class="f"/>
<path d="M588,873 L610,873.5 C614,874 614,880 610,881 L590,883" stroke-width="1.50" />
<path d="M558,845 C552,848 550,855 550,860" stroke-width="1.10" />
<path d="M631,865 C631,862 636,861 640,860.5 L662,856.5 L674,864 L676,893 L672,897.6 L643,895 L634,890 C631,886 630,880 631,865 Z" stroke-width="2.25" />
<path class="f" d="M644,866 L674,863 L675.5,893 L671,897 L646,895 Z"/>
<path d="M631,865 L644,867 L662,856.5" stroke-width="1.40" />
<rect x="636" y="874" width="4" height="9" rx="1.5" stroke-width="1.30"/></svg></body></html>
